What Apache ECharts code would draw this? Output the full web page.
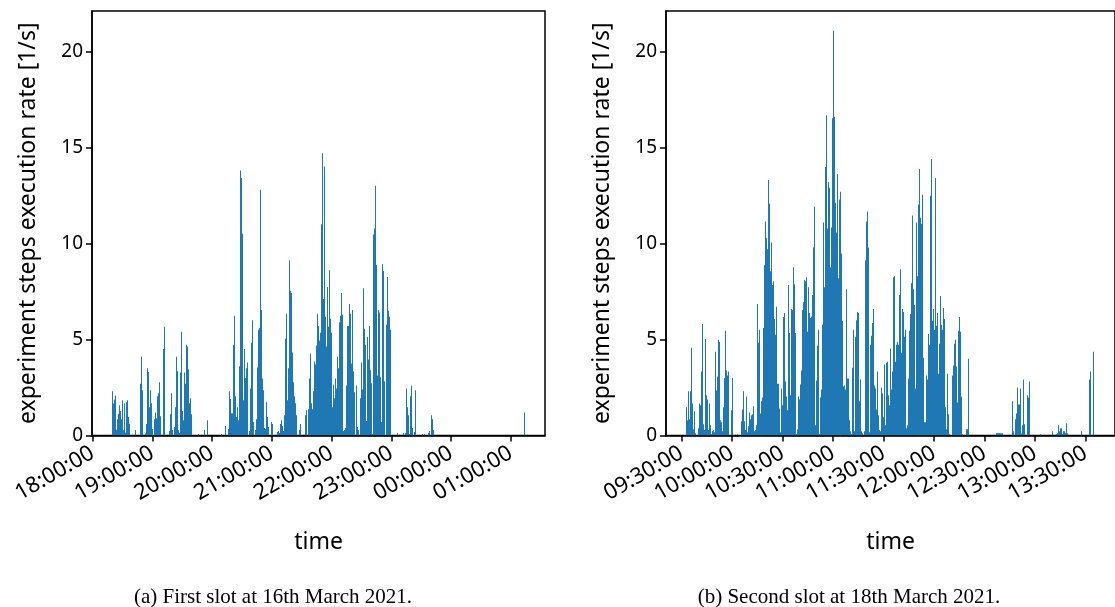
<!DOCTYPE html>
<html>
<head>
<meta charset="utf-8">
<title>experiment steps execution rate</title>
<script src="https://cdn.jsdelivr.net/npm/echarts@6/dist/echarts.min.js"></script>
<style>
  html, body { margin: 0; padding: 0; background: #ffffff; }
  #chart { width: 1115px; height: 607px; }
</style>
</head>
<body>
<div id="chart"></div>
<script>
// ---- data: execution rate [1/s] per time bin ----
// (a) 16th March 2021, bins start at 18:19:46 (seconds of day, may run past midnight)
const slotATitle = '(a) First slot at 16th March 2021.';
const slotAStart = 65986;
const slotABinSeconds = 60.2;
const slotARates = [
  2.3,1.66,1.87,2.08,0.3,0.85,1.13,1.58,1.27,0.85,
  1.84,0.28,1.68,0.16,1.73,1.84,0.96,0.61,0,0,
  0,0,0,0.28,0,0,0,0,2.7,4.1,
  2.35,0,0,0.11,0.6,3.5,3.3,1.47,2.35,1.68,
  0.34,0,0.85,1.2,0.9,2.04,2.2,2.77,1.0,0,
  0,4.5,5.66,0,0,0,0,0.23,1.1,2.2,
  0.28,0,0.44,1.47,4.1,3.34,0.28,0.13,3.28,5.4,
  1.27,0.8,3.28,2.7,4.73,4.63,3.44,1.68,1.94,1.1,
  0,0,0,0,0,0,0.08,0,0,0,
  0,0,0.28,0,0,0.8,0,0,0,0,
  0,0,0,0,0,0,0,0,0,0.08,
  0,0,0,0.5,0,0,0.34,2.3,1.9,1.16,
  1.16,4.73,6.23,2.04,0.96,1.47,0.8,3.6,13.8,13.4,
  10.5,1.84,4.5,3.0,3.5,3.8,0,0.23,2.45,4.83,
  6.0,0.7,0,0.28,0.85,3.54,5.5,5.6,12.8,6.54,
  2.97,2.35,0.39,0.34,1.73,0.96,0.44,0,0,0.7,
  0.6,0,0,0,0,0.18,0.23,0.13,0.6,0.8,
  0.5,0.23,1.06,5.04,6.34,1.84,3.5,9.13,7.53,7.42,
  4.32,2.77,2.04,1.68,1.06,0,0,0.28,0.6,0,
  0,0,0,1.06,1.32,0,1.37,2.97,4.27,1.68,
  1.37,2.3,3.85,3.7,4.68,6.34,5.7,4.94,5.35,11.0,
  14.7,7.1,14.0,6.18,4.63,7.73,5.66,8.6,6.08,5.35,
  1.47,2.66,1.94,2.97,2.45,4.1,3.5,5.9,6.23,7.42,
  6.28,0.23,0.28,0.39,2.6,5.7,5.7,6.85,6.34,3.75,
  6.54,3.34,2.25,0,2.6,0.44,0.28,0,1.94,3.8,
  2.4,7.67,5.56,4.73,0.75,5.14,3.96,5.7,3.4,2.72,
  0.08,10.47,10.78,13.0,8.87,3.13,6.54,6.4,3.03,0.7,
  8.92,8.56,2.82,0,5.77,8.25,6.49,6.18,5.5,0,
  0,0,0,0,0,0.13,0,0,0,0,
  0,0.13,0,0.13,2.45,1.47,1.06,0.08,2.04,2.6,
  0.39,0,0.18,2.35,0,0,0,0,0,0,
  0.08,0,0.08,0,0,0,0.13,0.23,0,1.06,
  0.85,0.28,0,0,0,0,0,0,0,0,
  0,0,0,0,0,0,0,0,0,0,
  0,0,0,0,0,0,0,0,0,0,
  0,0,0,0,0,0,0,0,0,0,
  0,0,0,0,0,0,0,0,0,0,
  0,0,0,0,0,0,0,0,0,0,
  0,0,0,0,0,0,0,0,0,0,
  0,0,0,0,0,0,0,0,0,0,
  0,0,0,0,0,0,0,0,0,0,
  0,0,1.2
];
const slotATicks = [64800, 68400, 72000, 75600, 79200, 82800, 86400, 90000];
const slotARange = [64764, 92062];

// (b) 18th March 2021, bins start at 09:32:56
const slotBTitle = '(b) Second slot at 18th March 2021.';
const slotBStart = 34376;
const slotBBinSeconds = 35.2;
const slotBRates = [
  1.47,0.8,2.3,0.85,2.3,4.57,1.67,0.33,1.26,0.12,
  0,0,0.38,1.67,1.57,3.33,5.8,0.59,0.28,5.03,
  2.09,1.88,0.28,1.67,0.53,0.07,0.22,0.28,0.17,4.36,
  2.34,3.07,4.98,4.88,0.79,0.69,0.22,1.47,3.0,5.45,
  3.38,3.12,3.33,0,0,1.31,3.0,0,0,0,
  0,0.07,0,0,0,0.74,1.36,2.3,0.74,0.28,
  2.03,0.17,0.48,1.2,0.84,1.05,1.1,1.52,0.22,0.28,
  0.53,6.84,4.83,5.5,1.15,1.26,1.78,1.98,5.6,8.86,
  11.14,10.3,9.69,13.3,12.07,8.55,10.05,7.83,8.03,6.07,
  5.24,6.7,2.7,2.7,1.4,0.17,2.45,1.57,6.17,6.38,
  2.81,2.03,1.31,7.83,5.34,2.09,6.59,6.53,8.76,7.88,
  5.34,0.07,0.33,2.03,1.88,2.66,3.38,6.53,6.95,8.09,
  8.03,8.24,5.4,7.72,6.38,6.12,6.2,7.31,9.79,11.91,
  0.53,2.86,4.67,5.5,0.07,1.98,2.4,5.76,11.09,7.72,
  13.98,16.67,10.78,13.2,12.9,8.76,10.83,16.52,21.07,16.6,
  12.12,10.57,13.62,8.19,12.28,12.69,5.09,9.48,5.96,2.55,
  2.6,2.4,7.62,2.97,2.97,0.79,0.22,0.07,3.53,5.5,
  0.22,5.14,6.0,6.43,6.38,1.78,2.91,0.22,0.12,0.02,
  0.22,9.12,11.14,11.66,9.79,0.17,4.72,5.19,5.86,6.59,
  2.6,2.45,1.36,3.33,1.05,0.28,0.22,2.5,2.19,0.95,
  3.69,0.53,3.79,3.84,2.09,1.57,4.52,2.4,3.33,8.24,
  8.29,3.84,4.72,4.88,4.72,7.31,8.66,4.31,6.59,6.43,
  5.14,5.5,0.38,0.53,2.97,5.45,6.33,7.93,11.45,7.62,
  6.79,2.45,11.09,8.29,10.21,12.02,13.88,11.34,11.03,12.53,
  4.05,0.69,0.69,3.12,2.91,5.29,4.72,12.48,14.4,5.97,
  6.59,5.5,13.41,5.71,6.38,3.22,4.78,7.26,5.76,5.5,
  6.64,6.07,1.47,0.33,3.22,1.1,0.07,0,0,3.12,
  3.64,4.78,4.98,3.59,1.72,5.45,6.17,5.4,2.03,0.07,
  0,0,0,0.33,0.33,4.0,0,0,0,0,
  0,0,0,0,0,0,0,0,0,0,
  0,0,0,0,0,0,0,0,0,0,
  0,0,0,0.12,0.12,0.12,0.12,0.12,0.12,0.12,
  0.12,0,0,0,0,0,0,0,0,0,
  1.78,0.22,0,0.84,1.15,2.5,1.62,1.62,2.45,0.1,
  0.53,2.91,0.59,0,0,2.09,1.98,2.81,0,0,
  0,0,0,0,0,0,0,0,0.07,0,
  0,0,0,0,0,0,0,0,0,0,
  0.22,0,0,0,0.07,0.12,0.53,0.22,0.38,0.38,
  0.07,0.22,0.22,0.12,0.64,0.12,0,0,0,0,
  0,0,0,0,0,0,0,0,0,0,
  0.22,0,0,0,0,0,0,0,2.91,3.33,
  0,0,4.36
];
const slotBTicks = [34200, 36000, 37800, 39600, 41400, 43200, 45000, 46800, 48600];
const slotBRange = [33647, 49653];

const rateTicks = [0, 5, 10, 15, 20];
const rateMax = 22.1;

const yAxisTitle = 'experiment steps execution rate [1/s]';
const xAxisTitle = 'time';

// ---- styling ----
const BAR_COLOR = '#1f77b4';
const SANS = '"Noto Sans", "DejaVu Sans", sans-serif';
const SERIF = '"Liberation Serif", "DejaVu Serif", serif';

function pad2(n) { return (n < 10 ? '0' : '') + n; }
function clock(sec) {
  const s = ((Math.round(sec) % 86400) + 86400) % 86400;
  return pad2(Math.floor(s / 3600)) + ':' + pad2(Math.floor(s / 60) % 60) + ':' + pad2(s % 60);
}

function binPairs(start, width, rates) {
  return rates.map((v, i) => [start + i * width, v]);
}

// one solid rectangle per bin, edges snapped to whole pixels so thin bins stay crisp
function binRenderer(width) {
  return function (params, api) {
    const t = api.value(0);
    const v = api.value(1);
    if (!v) return null;
    const top = api.coord([t, v]);
    const base = api.coord([t + width, 0]);
    const x0 = Math.round(top[0]);
    const x1 = Math.max(x0 + 1, Math.round(base[0]));
    return {
      type: 'rect',
      shape: { x: x0, y: top[1], width: x1 - x0, height: base[1] - top[1] },
      style: { fill: BAR_COLOR }
    };
  };
}

function timeAxis(gridIndex, range, ticks) {
  return {
    type: 'value', gridIndex: gridIndex,
    min: range[0], max: range[1],
    name: xAxisTitle, nameLocation: 'middle', nameGap: 95,
    nameTextStyle: { fontFamily: SANS, fontSize: 23, color: '#000' },
    axisLine: { show: true, onZero: false, lineStyle: { color: '#000', width: 1.5 } },
    axisTick: { show: true, length: 6, customValues: ticks, lineStyle: { color: '#000', width: 1.5 } },
    axisLabel: {
      customValues: ticks, rotate: 30, margin: 16,
      fontFamily: SANS, fontSize: 22, color: '#000',
      formatter: clock
    },
    splitLine: { show: false }
  };
}

function rateAxis(gridIndex) {
  return {
    type: 'value', gridIndex: gridIndex,
    min: 0, max: rateMax,
    name: yAxisTitle, nameLocation: 'middle', nameGap: 52,
    nameTextStyle: { fontFamily: SANS, fontSize: 23, color: '#000' },
    axisLine: { show: true, lineStyle: { color: '#000', width: 1.5 } },
    axisTick: { show: true, length: 6, customValues: rateTicks, lineStyle: { color: '#000', width: 1.5 } },
    axisLabel: { customValues: rateTicks, margin: 9, fontFamily: SANS, fontSize: 19, color: '#000' },
    splitLine: { show: false }
  };
}

const chart = echarts.init(document.getElementById('chart'), null, { renderer: 'canvas' });

chart.setOption({
  backgroundColor: '#ffffff',
  animation: false,
  grid: [
    { left: 92, top: 11, width: 453, height: 424.5, show: true, borderColor: '#000', borderWidth: 1.5, backgroundColor: 'transparent' },
    { left: 666, top: 11, width: 455, height: 424.5, show: true, borderColor: '#000', borderWidth: 1.5, backgroundColor: 'transparent' }
  ],
  xAxis: [timeAxis(0, slotARange, slotATicks), timeAxis(1, slotBRange, slotBTicks)],
  yAxis: [rateAxis(0), rateAxis(1)],
  series: [
    {
      type: 'custom', xAxisIndex: 0, yAxisIndex: 0, clip: true,
      renderItem: binRenderer(slotABinSeconds),
      encode: { x: 0, y: 1 },
      data: binPairs(slotAStart, slotABinSeconds, slotARates)
    },
    {
      type: 'custom', xAxisIndex: 1, yAxisIndex: 1, clip: true,
      renderItem: binRenderer(slotBBinSeconds),
      encode: { x: 0, y: 1 },
      data: binPairs(slotBStart, slotBBinSeconds, slotBRates)
    }
  ],
  graphic: [
    { type: 'text', x: 273, y: 597, style: { text: slotATitle, font: '21px ' + SERIF, fill: '#000', align: 'center', verticalAlign: 'middle' } },
    { type: 'text', x: 849, y: 597, style: { text: slotBTitle, font: '21px ' + SERIF, fill: '#000', align: 'center', verticalAlign: 'middle' } }
  ]
});
</script>
</body>
</html>
